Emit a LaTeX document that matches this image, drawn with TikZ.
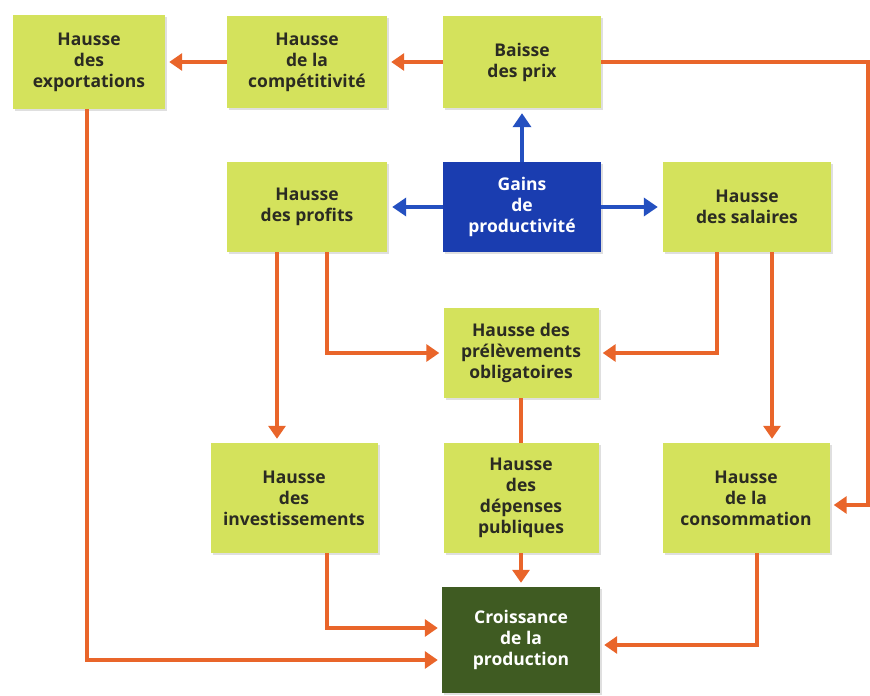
\documentclass[tikz,border=0pt]{standalone}
\usepackage{fontspec}
\setmainfont{Open Sans}
\usetikzlibrary{arrows.meta,positioning,calc,shadows}
\definecolor{boxG}{HTML}{D4E25C}
\definecolor{boxB}{HTML}{1A3DB0}
\definecolor{boxD}{HTML}{3F5B22}
\definecolor{arrO}{HTML}{E9652A}
\definecolor{arrB}{HTML}{2450C0}
\definecolor{txt}{HTML}{2B2B22}
\tikzset{
  box/.style={fill=boxG, text=txt, align=center, inner sep=2pt,
    minimum width=158pt, minimum height=90pt,
    font=\bfseries\fontsize{17.5}{21}\selectfont,
    drop shadow={shadow xshift=2pt, shadow yshift=-2pt, opacity=0.25}},
  tall/.style={minimum height=110pt},
  gainbox/.style={box, fill=boxB, text=white},
  prodbox/.style={box, fill=boxD, text=white, minimum height=106pt},
  oarr/.style={arrO, line width=4.8pt, shorten >=4pt,
    -{Triangle[width=17pt,length=13pt]}},
  oline/.style={arrO, line width=4.8pt},
  barr/.style={arrB, line width=4pt, shorten >=5pt,
    -{Triangle[width=18pt,length=14pt]}},
}
\begin{document}
\begin{tikzpicture}[x=1pt,y=-1pt]
\useasboundingbox (0,0) rectangle (870,696);

% ===================== top row =====================
\node[box, minimum width=152pt, minimum height=94pt] (expo) at (89,62) {Hausse\\des\\exportations};
\node[box, minimum width=160pt, minimum height=92pt] (compet) at (307,62) {Hausse\\de la\\compétitivité};
\node[box, minimum height=92pt] (prix) at (522,62) {Baisse\\des prix};

% ===================== middle row ==================
\node[gainbox] (gains) at (522,207) {Gains\\de\\productivité};
\node[box, minimum width=160pt] (profits) at (307,207) {Hausse\\des profits};
\node[box, minimum width=168pt] (salaires) at (747,207) {Hausse\\des salaires};
\node[box, minimum width=155pt] (prelev) at (521,353) {Hausse des\\prélèvements\\obligatoires};

% ===================== lower row ===================
\node[box, tall, minimum width=167pt] (invest) at (294,498) {Hausse\\des\\investissements};
\node[box, tall, minimum width=155pt] (depenses) at (521,498) {Hausse\\des\\dépenses\\publiques};
\node[box, tall, minimum width=167pt] (conso) at (746,498) {Hausse\\de la\\consommation};
\node[prodbox] (croiss) at (521,640) {Croissance\\de la\\production};

% ===================== connectors ==================
\coordinate (rtop) at (868,62);
% blue: from productivity gains
\draw[barr] (gains.north) -- (prix.south);
\draw[barr] (gains.west) -- (profits.east);
\draw[barr] (gains.east) -- (salaires.west);
% top row
\draw[oarr] (prix.west) -- (compet.east);
\draw[oarr] (compet.west) -- (expo.east);
\draw[oarr] (prix.east) -- (rtop) |- ([yshift=-7pt]conso.east);
% profits and wages
\draw[oarr] ([xshift=-30pt]profits.south) -- ([xshift=-30pt]profits.south |- invest.north);
\draw[oarr] ([xshift=20pt]profits.south) |- (prelev.west);
\draw[oarr] ([xshift=-30pt]salaires.south) |- (prelev.east);
\draw[oarr] ([xshift=25pt]salaires.south) -- ([xshift=25pt]salaires.south |- conso.north);
\draw[oline] (prelev.south) -- (depenses.north);
% towards production
\draw[oarr] (depenses.south) -- (croiss.north);
\draw[oarr] ([xshift=33pt]invest.south) |- ([yshift=12pt]croiss.west);
\draw[oarr] ([xshift=-2pt]expo.south) |- ([yshift=-20pt]croiss.west);
\draw[oarr] ([xshift=11pt]conso.south) |- ([yshift=-5pt]croiss.east);
\end{tikzpicture}
\end{document}
